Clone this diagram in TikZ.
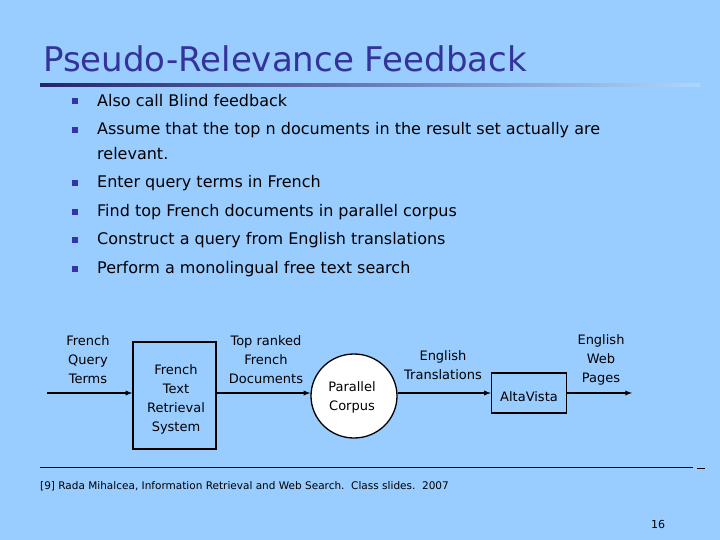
\documentclass[tikz,border=0pt]{standalone}
\usepackage{fontspec}
\setmainfont{DejaVu Sans}
\usetikzlibrary{shapes.geometric}
\definecolor{bg}{RGB}{153,204,255}
\definecolor{ttl}{RGB}{51,51,153}
\definecolor{bul}{RGB}{51,51,170}
\begin{document}
\begin{tikzpicture}[x=1pt,y=-1pt,
  lbl/.style={align=center,font=\fontsize{13}{19}\selectfont,inner sep=0pt},
  btxt/.style={anchor=west,font=\fontsize{16}{19}\selectfont,inner sep=0pt},
  bsq/.style={fill=bul,minimum size=6pt,inner sep=0pt},
  boxn/.style={draw,line width=1.3pt,inner sep=0pt},
  arr/.style={line width=1.3pt,-latex}]
\fill[bg] (0,0) rectangle (720,540);
\useasboundingbox (0,0) rectangle (720,540);
\node[anchor=west,text=ttl,font=\fontsize{34}{38}\selectfont,inner sep=0pt] (title) at (43,59) {Pseudo-Relevance Feedback};
\shade[left color=ttl!70!black,right color=bg!80!white] (40,84) rectangle (700,87);
\foreach \y/\t [count=\i] in {101/Also call Blind feedback,
  130/Assume that the top n documents in the result set actually are,
  183/Enter query terms in French,
  212/Find top French documents in parallel corpus,
  240/Construct a query from English translations,
  269/Perform a monolingual free text search}{
  \node[bsq] (b\i) at (75,\y) {};
  \node[btxt] (t\i) at (97,\y) {\t};
}
\node[btxt] (t2b) at (97,154) {relevant.};
% diagram
\coordinate (start) at (47,393);
\node[boxn,minimum width=83pt,minimum height=107pt] (ftrs) at (174.5,395.5) {};
\node[lbl] (ftrst) at (176,399) {French\\Text\\Retrieval\\System};
\node[draw,line width=1.3pt,fill=white,ellipse,minimum width=86pt,minimum height=84pt,inner sep=0pt] (pc) at (354,396) {};
\node[lbl] (pct) at (352,397) {Parallel\\Corpus};
\node[boxn,minimum width=75pt,minimum height=40pt] (av) at (529,393) {};
\node[lbl] (avt) at (529,397) {AltaVista};
\coordinate (end) at (632,393);
\draw[arr] (start) -- (ftrs.west|-start);
\draw[arr] (ftrs.east|-start) -- (pc.west|-start);
\draw[arr] (pc.east|-start) -- (av.west);
\draw[arr] (av.east) -- (end);
\node[lbl] (l1) at (88,360) {French\\Query\\Terms};
\node[lbl] (l2) at (266,360) {Top ranked\\French\\Documents};
\node[lbl] (l3) at (443,365) {English\\Translations};
\node[lbl] (l4) at (601,360) {English\\Web\\Pages};
\draw[line width=0.8pt] (40,467) -- (693,467);
\draw[line width=0.8pt] (697,468) -- (705,468);
\node[anchor=west,font=\fontsize{10.5}{12}\selectfont,inner sep=0pt] (cite) at (40,486) {[9] Rada Mihalcea, Information Retrieval and Web Search.\ \ Class slides.\ \ 2007};
\node[font=\fontsize{11}{12}\selectfont,inner sep=0pt] (pg) at (658,524) {16};
\end{tikzpicture}
\end{document}
